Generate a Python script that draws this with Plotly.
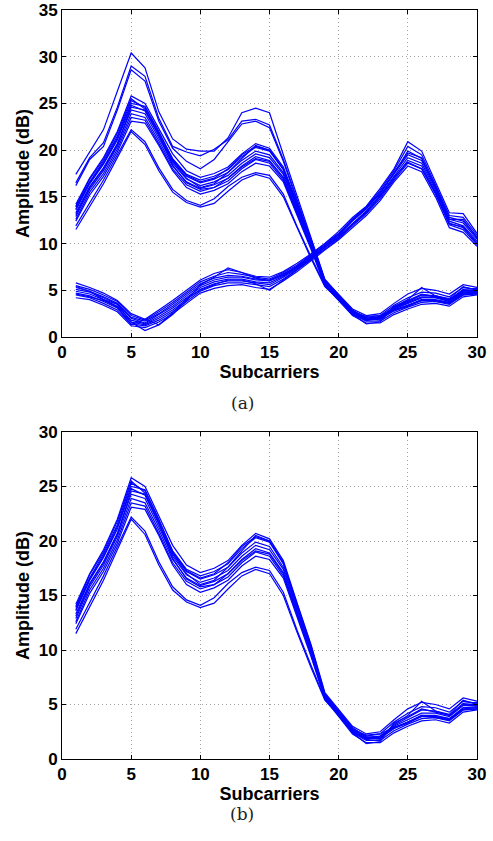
import plotly.graph_objects as go
from plotly.subplots import make_subplots

subcarriers = list(range(1, 31))

# first link (peaks at subcarrier 5 and 14)
link1_main = [
    [14.2, 17.0, 19.2, 22.0, 25.8, 25.0, 22.3, 19.6, 17.8, 17.1, 17.5, 18.2, 19.6, 20.7, 20.2, 18.2, 14.3, 10.5, 6.1, 4.6, 3.0, 2.3, 2.5, 3.6, 4.6, 5.2, 5.0, 4.6, 5.6, 5.3],
    [13.9, 16.6, 18.8, 21.5, 25.3, 24.6, 21.9, 19.1, 17.4, 16.8, 17.2, 17.9, 19.3, 20.3, 19.9, 17.9, 14.0, 10.3, 6.0, 4.4, 2.8, 2.1, 2.3, 3.4, 4.2, 4.8, 4.7, 4.3, 5.3, 5.1],
    [13.6, 16.4, 18.5, 21.1, 24.8, 24.2, 21.6, 18.9, 17.2, 16.5, 16.9, 17.6, 18.9, 19.9, 19.5, 17.6, 13.8, 10.1, 5.9, 4.3, 2.7, 2.0, 2.1, 3.1, 3.8, 4.5, 4.4, 4.0, 5.0, 5.0],
    [13.3, 16.1, 18.1, 20.7, 24.3, 23.9, 21.3, 18.6, 16.9, 16.2, 16.6, 17.3, 18.6, 19.6, 19.2, 17.4, 13.6, 10.0, 5.8, 4.2, 2.6, 1.9, 2.0, 3.0, 3.6, 4.2, 4.2, 3.9, 4.9, 4.9],
    [12.9, 15.8, 17.8, 20.4, 23.9, 23.5, 21.0, 18.3, 16.6, 15.9, 16.3, 17.0, 18.3, 19.3, 18.9, 17.1, 13.4, 9.8, 5.7, 4.1, 2.5, 1.8, 1.9, 2.8, 3.4, 4.0, 4.0, 3.7, 4.7, 4.8],
    [12.6, 15.5, 17.5, 20.1, 23.5, 23.2, 20.7, 18.0, 16.3, 15.6, 16.0, 16.7, 18.0, 19.0, 18.6, 16.8, 13.2, 9.6, 5.6, 4.0, 2.4, 1.7, 1.7, 2.6, 3.2, 3.7, 3.8, 3.5, 4.5, 4.6],
    [12.4, 15.2, 17.2, 19.8, 23.1, 22.9, 20.5, 17.8, 16.0, 15.3, 15.7, 16.4, 17.7, 18.6, 18.3, 16.6, 13.0, 9.4, 5.5, 3.9, 2.3, 1.5, 1.5, 2.4, 3.0, 3.5, 3.6, 3.3, 4.3, 4.5],
    [14.0, 16.9, 19.0, 21.8, 25.5, 24.4, 21.6, 18.8, 17.0, 16.0, 16.4, 17.6, 19.1, 20.5, 20.0, 18.0, 14.2, 10.4, 5.9, 4.3, 2.4, 1.4, 1.6, 3.3, 3.9, 4.6, 4.3, 4.0, 5.1, 5.2],
    [13.1, 16.0, 18.0, 20.6, 24.6, 24.3, 21.7, 18.4, 16.5, 15.8, 16.0, 17.0, 18.2, 19.1, 18.8, 17.0, 13.3, 9.7, 5.7, 4.1, 2.7, 2.2, 2.3, 2.9, 3.4, 3.9, 3.9, 3.6, 4.7, 4.7],
    [13.7, 16.5, 18.6, 21.3, 25.0, 24.7, 22.0, 19.0, 17.3, 16.6, 17.0, 18.0, 19.5, 20.4, 20.0, 18.0, 14.0, 10.2, 5.9, 4.4, 2.9, 2.0, 1.8, 3.2, 4.0, 5.3, 4.4, 4.1, 5.4, 5.0],
]
link1_low = [
    [11.5, 14.0, 16.4, 19.2, 22.0, 20.6, 17.8, 15.5, 14.4, 13.9, 14.3, 15.6, 16.8, 17.4, 17.0, 15.0, 11.6, 8.4, 5.4, 4.0, 2.6, 1.9, 2.0, 2.8, 3.3, 3.9, 3.8, 3.6, 4.5, 4.6],
    [11.9, 14.4, 16.8, 19.5, 22.2, 20.9, 18.1, 15.8, 14.6, 14.1, 14.8, 16.1, 17.1, 17.6, 17.3, 15.3, 11.8, 8.6, 5.5, 4.1, 2.5, 1.8, 2.1, 2.9, 3.3, 4.0, 3.9, 3.7, 4.6, 4.7],
]
# outliers only shown in (a)
link1_high = [
    [17.4, 19.8, 22.2, 26.3, 30.4, 28.8, 24.1, 21.2, 20.1, 19.9, 19.9, 21.3, 24.0, 24.5, 24.0, 19.5, 15.0, 10.6, 6.2, 4.5, 2.8, 2.0, 2.2, 3.2, 3.8, 4.5, 4.4, 4.0, 5.0, 5.0],
    [16.5, 19.2, 20.8, 24.6, 29.0, 27.9, 23.4, 20.4, 19.8, 19.4, 20.1, 21.1, 23.1, 23.3, 22.7, 19.0, 14.7, 10.4, 6.0, 4.4, 2.7, 1.9, 2.1, 3.1, 3.7, 4.3, 4.3, 3.9, 4.9, 4.9],
    [16.2, 19.0, 20.4, 24.3, 28.6, 27.4, 23.1, 20.2, 18.8, 18.0, 19.0, 20.9, 22.8, 23.1, 22.4, 18.8, 14.5, 10.3, 5.9, 4.3, 2.6, 1.8, 2.0, 3.0, 3.6, 4.2, 4.2, 3.8, 4.8, 4.8],
]

# second link (peak at subcarrier 25)
link2 = [
    [5.8, 5.3, 4.7, 3.9, 2.5, 1.9, 2.9, 3.9, 5.0, 6.1, 6.8, 7.2, 6.9, 6.5, 6.4, 7.0, 7.9, 8.9, 10.0, 11.3, 12.8, 14.0, 15.9, 18.0, 20.9, 19.9, 16.6, 13.3, 13.2, 11.1],
    [5.5, 5.1, 4.5, 3.8, 2.3, 1.8, 2.7, 3.7, 4.8, 5.9, 6.5, 6.9, 6.7, 6.4, 6.2, 6.9, 7.7, 8.8, 9.9, 11.1, 12.6, 13.9, 15.7, 17.8, 20.4, 19.5, 16.3, 13.0, 12.8, 10.9],
    [5.3, 4.9, 4.3, 3.6, 2.1, 1.7, 2.5, 3.5, 4.6, 5.7, 6.3, 6.6, 6.5, 6.2, 6.1, 6.7, 7.6, 8.7, 9.8, 11.0, 12.5, 13.8, 15.5, 17.5, 19.9, 19.1, 16.1, 12.8, 12.4, 10.7],
    [5.1, 4.8, 4.2, 3.5, 2.0, 1.5, 2.4, 3.3, 4.4, 5.5, 6.1, 6.4, 6.4, 6.1, 6.0, 6.6, 7.5, 8.6, 9.7, 10.9, 12.4, 13.7, 15.4, 17.4, 19.5, 18.9, 15.9, 12.6, 12.2, 10.5],
    [4.9, 4.6, 4.0, 3.3, 1.8, 1.4, 2.2, 3.1, 4.2, 5.3, 5.9, 6.2, 6.2, 5.9, 5.8, 6.5, 7.4, 8.5, 9.6, 10.8, 12.2, 13.5, 15.2, 17.2, 19.2, 18.6, 15.7, 12.4, 11.9, 10.3],
    [4.7, 4.4, 3.8, 3.1, 1.6, 1.3, 2.0, 2.9, 4.0, 5.1, 5.7, 6.0, 6.0, 5.8, 5.6, 6.4, 7.3, 8.4, 9.5, 10.7, 12.0, 13.4, 15.0, 17.0, 18.9, 18.3, 15.5, 12.2, 11.7, 10.1],
    [4.5, 4.2, 3.6, 2.9, 1.4, 1.2, 1.8, 2.7, 3.8, 4.9, 5.5, 5.8, 5.8, 5.6, 5.4, 6.2, 7.2, 8.3, 9.4, 10.5, 11.9, 13.2, 14.8, 16.8, 18.6, 18.0, 15.3, 12.0, 11.5, 9.9],
    [4.2, 4.0, 3.4, 2.7, 1.2, 1.0, 1.6, 2.5, 3.6, 4.7, 5.2, 5.5, 5.6, 5.3, 5.1, 6.0, 7.0, 8.2, 9.3, 10.4, 11.7, 13.0, 14.6, 16.6, 18.3, 17.7, 15.0, 11.7, 11.2, 9.7],
    [5.4, 4.9, 4.0, 3.5, 1.6, 0.7, 1.3, 2.4, 3.9, 5.6, 6.4, 7.4, 6.9, 6.3, 6.0, 6.8, 7.5, 8.6, 9.8, 11.0, 12.6, 13.9, 15.4, 17.6, 19.7, 19.2, 16.0, 12.6, 12.6, 10.6],
    [4.6, 4.3, 3.9, 3.2, 1.3, 1.9, 1.3, 2.6, 4.1, 5.0, 5.6, 6.1, 6.1, 5.7, 5.0, 6.1, 7.2, 8.3, 9.6, 10.6, 12.1, 13.3, 15.1, 17.1, 18.7, 18.0, 15.4, 12.1, 11.8, 10.0],
]

x_ticks = [0, 5, 10, 15, 20, 25, 30]
y_ticks_a = [0, 5, 10, 15, 20, 25, 30, 35]
y_ticks_b = [0, 5, 10, 15, 20, 25, 30]

W, H = 493, 841
ml, mr, mt, mb = 62, 16, 10, 82
ph = H - mt - mb

fig = make_subplots(rows=2, cols=1)

def add_lines(curves, row):
    for c in curves:
        fig.add_trace(go.Scatter(x=subcarriers, y=c, mode="lines",
                                 line=dict(color="#0000ff", width=1.2),
                                 showlegend=False, hoverinfo="skip"),
                      row=row, col=1)

add_lines(link1_high + link1_main + link1_low + link2, 1)
add_lines(link1_main + link1_low, 2)

def bold(vals):
    return ["<b>%d</b>" % v for v in vals]

tick_font = dict(family="Liberation Sans, Arial", size=17, color="black")
title_font = dict(family="Liberation Sans, Arial", size=18, color="black")
ax_common = dict(showline=True, mirror="ticks", linecolor="black", linewidth=1,
                 ticks="inside", ticklen=4, tickcolor="black", automargin=False,
                 showgrid=True, gridcolor="#a0a0a0", griddash="1px,3px", gridwidth=1,
                 zeroline=False, tickfont=tick_font)

# pixel rows of the plot areas, measured from the top of the figure
top_dom = [(H - mb - 337) / ph, 1.0]
bot_dom = [0.0, (H - mb - 432) / ph]

fig.update_xaxes(range=[0, 30], tickvals=x_ticks, ticktext=bold(x_ticks), **ax_common)
fig.update_xaxes(title=dict(text="<b>Subcarriers</b>", font=title_font, standoff=0))
fig.update_yaxes(**ax_common)
fig.update_yaxes(title=dict(text="<b>Amplitude (dB)</b>", font=title_font, standoff=4))
fig.update_yaxes(range=[0, 35], tickvals=y_ticks_a, ticktext=bold(y_ticks_a), domain=top_dom, row=1, col=1)
fig.update_yaxes(range=[0, 30], tickvals=y_ticks_b, ticktext=bold(y_ticks_b), domain=bot_dom, row=2, col=1)

cap_font = dict(family="DejaVu Serif, Liberation Serif", size=17, color="#222")
fig.add_annotation(text="(a)", xref="paper", yref="paper", x=0.434, y=(H - mb - 403) / ph,
                   showarrow=False, font=cap_font)
fig.add_annotation(text="(b)", xref="paper", yref="paper", x=0.434, y=(H - mb - 826) / ph,
                   showarrow=False, font=cap_font)

fig.update_layout(width=W, height=H, margin=dict(l=ml, r=mr, t=mt, b=mb),
                  plot_bgcolor="white", paper_bgcolor="white")

# drop the default page margin so the figure sits at the window corner
fig.write_html("out.html", config={"displayModeBar": False},
               post_script="document.body.style.margin='0';")
